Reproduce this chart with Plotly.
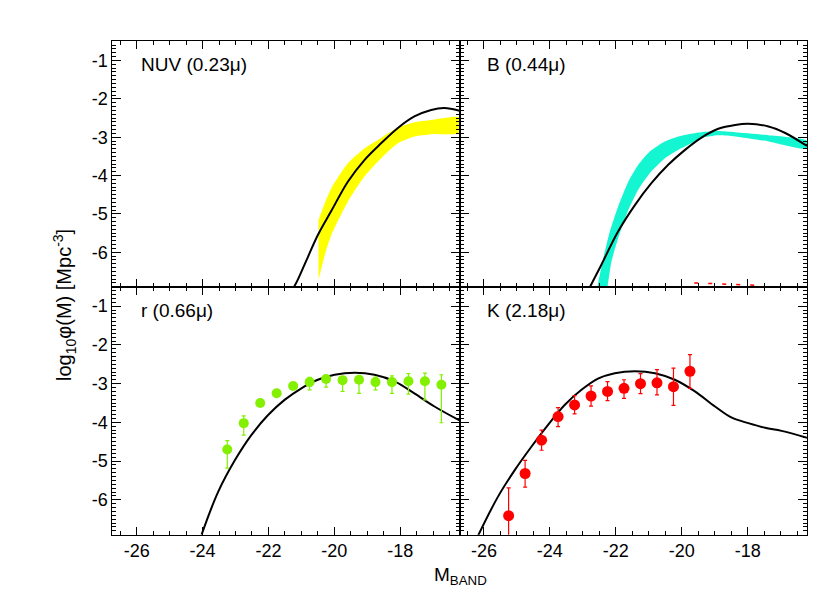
import plotly.graph_objects as go

# ---------------- data ----------------
# NUV panel: model curve and yellow band
nuv_curve_M = [-21.22, -21.10, -20.80, -20.50, -20.09, -19.59, -19.08, -18.58, -18.07, -17.57, -17.06, -16.66, -16.20]
nuv_curve_phi = [-6.90, -6.70, -6.12, -5.55, -4.92, -4.16, -3.59, -3.16, -2.76, -2.46, -2.29, -2.24, -2.31]
nuv_band_M = [-20.48, -20.29, -20.09, -19.59, -19.08, -18.58, -18.07, -17.57, -17.06, -16.20]
nuv_band_hi = [-5.16, -4.72, -4.33, -3.68, -3.29, -3.02, -2.75, -2.61, -2.55, -2.48]
nuv_band_lo = [-6.72, -6.07, -5.55, -4.68, -4.02, -3.55, -3.16, -2.98, -2.92, -2.89]

# B panel: model curve and cyan band
b_curve_M = [-22.78, -22.44, -21.93, -21.42, -20.92, -20.41, -19.90, -19.40, -18.89, -18.38, -17.98, -17.37, -16.86, -16.20]
b_curve_phi = [-6.90, -6.33, -5.46, -4.77, -4.20, -3.72, -3.33, -3.01, -2.78, -2.68, -2.65, -2.72, -2.89, -3.23]
b_band_hi_M = [-22.56, -22.38, -22.18, -21.93, -21.62, -21.32, -20.97, -20.51, -20.10, -19.80, -19.40, -18.89, -18.38, -17.37, -16.20]
b_band_hi = [-6.90, -6.16, -5.46, -4.81, -4.16, -3.72, -3.37, -3.11, -2.98, -2.92, -2.87, -2.84, -2.87, -2.95, -3.09]
b_band_lo_M = [-22.25, -22.13, -21.93, -21.62, -21.32, -20.97, -20.51, -20.10, -19.80, -19.40, -18.89, -18.38, -17.37, -16.20]
b_band_lo = [-6.90, -6.24, -5.64, -4.90, -4.37, -3.94, -3.55, -3.33, -3.20, -3.02, -2.95, -2.98, -3.11, -3.30]
b_red_M = [-19.62, -17.70]
b_red_phi = [-6.80, -6.86]

# r panel: model curve and data points
r_curve_M = [-24.03, -23.53, -23.02, -22.52, -22.01, -21.51, -21.00, -20.50, -19.99, -19.38, -18.78, -18.17, -17.57, -16.96, -16.20]
r_curve_phi = [-6.90, -5.80, -4.98, -4.33, -3.81, -3.42, -3.12, -2.90, -2.77, -2.72, -2.77, -2.94, -3.25, -3.59, -3.95]
r_M = [-23.25, -22.75, -22.25, -21.75, -21.25, -20.75, -20.25, -19.75, -19.25, -18.75, -18.25, -17.75, -17.25, -16.75]
r_phi = [-4.70, -4.02, -3.50, -3.25, -3.06, -2.96, -2.88, -2.91, -2.90, -2.96, -2.96, -2.94, -2.94, -3.03]
r_err_up = [0.23, 0.19, 0.05, 0.05, 0.06, 0.12, 0.08, 0.08, 0.08, 0.13, 0.16, 0.20, 0.21, 0.26]
r_err_lo = [0.48, 0.31, 0.05, 0.05, 0.06, 0.20, 0.21, 0.29, 0.35, 0.20, 0.29, 0.33, 0.48, 0.98]

# K panel: model curve and data points
k_curve_M = [-26.18, -25.58, -25.07, -24.56, -24.06, -23.55, -23.04, -22.54, -22.03, -21.42, -20.81, -20.21, -19.60, -18.99, -18.48, -17.98, -17.47, -16.97, -16.20]
k_curve_phi = [-6.93, -5.93, -5.24, -4.63, -4.07, -3.55, -3.16, -2.87, -2.73, -2.68, -2.73, -2.90, -3.20, -3.59, -3.88, -4.02, -4.14, -4.22, -4.40]
k_M = [-25.25, -24.75, -24.25, -23.75, -23.25, -22.75, -22.25, -21.75, -21.25, -20.75, -20.25, -19.75]
k_phi = [-6.41, -5.32, -4.46, -3.85, -3.55, -3.32, -3.20, -3.12, -3.00, -2.98, -3.08, -2.68]
k_err_up = [0.72, 0.34, 0.26, 0.23, 0.24, 0.26, 0.25, 0.22, 0.26, 0.34, 0.48, 0.43]
k_err_lo = [1.00, 0.35, 0.26, 0.26, 0.23, 0.26, 0.24, 0.26, 0.26, 0.31, 0.48, 0.44]

# ticks / labels
x_tickvals = [-26, -24, -22, -20, -18]
x_ticktext = ["-26", "-24", "-22", "-20", "-18"]
y_tickvals = [-6, -5, -4, -3, -2, -1]
y_ticktext = ["-6", "-5", "-4", "-3", "-2", "-1"]
panel_labels = ["NUV (0.23\u03bc)", "B (0.44\u03bc)", "r (0.66\u03bc)", "K (2.18\u03bc)"]
x_title = "M<sub>BAND</sub>"
y_title = "log<sub>10</sub>\u03c6(M) [Mpc<sup>-3</sup>]"

X_RANGE = [-26.74, -16.20]
Y_RANGE = [-6.9, -0.5]

# ---------------- figure ----------------
W, H = 830, 593
FONT = "Liberation Sans, Arial, Helvetica, sans-serif"
fig = go.Figure()

YELLOW = "#FFFF00"
CYAN = "#14F5D2"
GREEN = "#82F000"
RED = "#FF0000"

# NUV (x, y)
fig.add_trace(go.Scatter(
    x=nuv_band_M + nuv_band_M[::-1], y=nuv_band_hi + nuv_band_lo[::-1],
    fill="toself", fillcolor=YELLOW, line=dict(color=YELLOW, width=0, shape="spline", smoothing=0.6),
    mode="lines", xaxis="x", yaxis="y", hoverinfo="skip"))
fig.add_trace(go.Scatter(x=nuv_curve_M, y=nuv_curve_phi, mode="lines",
                         line=dict(color="black", width=2, shape="spline"), xaxis="x", yaxis="y"))

# B (x2, y2)
fig.add_trace(go.Scatter(
    x=b_band_hi_M + b_band_lo_M[::-1], y=b_band_hi + b_band_lo[::-1],
    fill="toself", fillcolor=CYAN, line=dict(color=CYAN, width=0, shape="spline", smoothing=0.6),
    mode="lines", xaxis="x2", yaxis="y2", hoverinfo="skip"))
fig.add_trace(go.Scatter(x=b_curve_M, y=b_curve_phi, mode="lines",
                         line=dict(color="black", width=2, shape="spline"), xaxis="x2", yaxis="y2"))
fig.add_trace(go.Scatter(x=b_red_M, y=b_red_phi, mode="lines",
                         line=dict(color=RED, width=1.5, dash="4px,10px"), xaxis="x2", yaxis="y2"))

# r (x3, y3)
fig.add_trace(go.Scatter(x=r_curve_M, y=r_curve_phi, mode="lines",
                         line=dict(color="black", width=2, shape="spline"), xaxis="x3", yaxis="y3"))
fig.add_trace(go.Scatter(x=r_M, y=r_phi, mode="markers",
                         marker=dict(color=GREEN, size=10),
                         error_y=dict(type="data", array=r_err_up, arrayminus=r_err_lo,
                                      color=GREEN, thickness=1.2, width=2),
                         xaxis="x3", yaxis="y3"))

# K (x4, y4)
fig.add_trace(go.Scatter(x=k_curve_M, y=k_curve_phi, mode="lines",
                         line=dict(color="black", width=2, shape="spline"), xaxis="x4", yaxis="y4"))
fig.add_trace(go.Scatter(x=k_M, y=k_phi, mode="markers",
                         marker=dict(color=RED, size=11),
                         error_y=dict(type="data", array=k_err_up, arrayminus=k_err_lo,
                                      color=RED, thickness=1.2, width=2),
                         xaxis="x4", yaxis="y4"))

# domains in pixels
XL = [104.3 / W, 451.5 / W]
XR = [451.5 / W, 799.0 / W]
YT = [(H - 278.8) / H, (H - 33.3) / H]
YB = [(H - 526.7) / H, (H - 278.8) / H]

tickfont = dict(family=FONT, size=18, color="black")


def xax(domain, anchor, labels):
    return dict(domain=domain, anchor=anchor, range=X_RANGE, showgrid=False, zeroline=False,
                showline=True, linecolor="black", linewidth=1, mirror="allticks",
                ticks="inside", ticklen=8, tickwidth=1, tickcolor="black",
                tickmode="array", tickvals=x_tickvals, ticktext=x_ticktext,
                showticklabels=labels, tickfont=tickfont,
                minor=dict(ticks="inside", ticklen=4, tickwidth=1, tickcolor="black",
                           tickmode="linear", tick0=0, dtick=0.5, showgrid=False))


def yax(domain, anchor, labels):
    return dict(domain=domain, anchor=anchor, range=Y_RANGE, showgrid=False, zeroline=False,
                showline=True, linecolor="black", linewidth=1, mirror="allticks",
                ticks="inside", ticklen=9, tickwidth=1, tickcolor="black",
                tickmode="array", tickvals=y_tickvals, ticktext=y_ticktext,
                showticklabels=labels, tickfont=tickfont,
                minor=dict(ticks="inside", ticklen=4, tickwidth=1, tickcolor="black",
                           tickmode="linear", tick0=0, dtick=0.1, showgrid=False))


fig.update_layout(
    width=W, height=H, margin=dict(l=0, r=0, t=0, b=0),
    paper_bgcolor="white", plot_bgcolor="white", showlegend=False,
    font=dict(family=FONT, color="black"),
    xaxis=xax(XL, "y", False), yaxis=yax(YT, "x", True),
    xaxis2=xax(XR, "y2", False), yaxis2=yax(YT, "x2", False),
    xaxis3=xax(XL, "y3", True), yaxis3=yax(YB, "x3", True),
    xaxis4=xax(XR, "y4", True), yaxis4=yax(YB, "x4", False),
)

label_pos = [(130.5, 57), (476.5, 57), (130.5, 303), (476.5, 303)]
for txt, (px, py) in zip(panel_labels, label_pos):
    fig.add_annotation(x=px / W, y=(H - py) / H, xref="paper", yref="paper", text=txt,
                       showarrow=False, xanchor="left", yanchor="middle",
                       font=dict(family=FONT, size=19, color="black"))

fig.add_annotation(x=452 / W, y=(H - 568) / H, xref="paper", yref="paper", text=x_title,
                   showarrow=False, xanchor="center", yanchor="middle",
                   font=dict(family=FONT, size=19, color="black"))
fig.add_annotation(x=56 / W, y=(H - 297) / H, xref="paper", yref="paper", text=y_title,
                   showarrow=False, xanchor="center", yanchor="middle", textangle=-90,
                   font=dict(family=FONT, size=20, color="black"))

fig.write_html("out.html")
